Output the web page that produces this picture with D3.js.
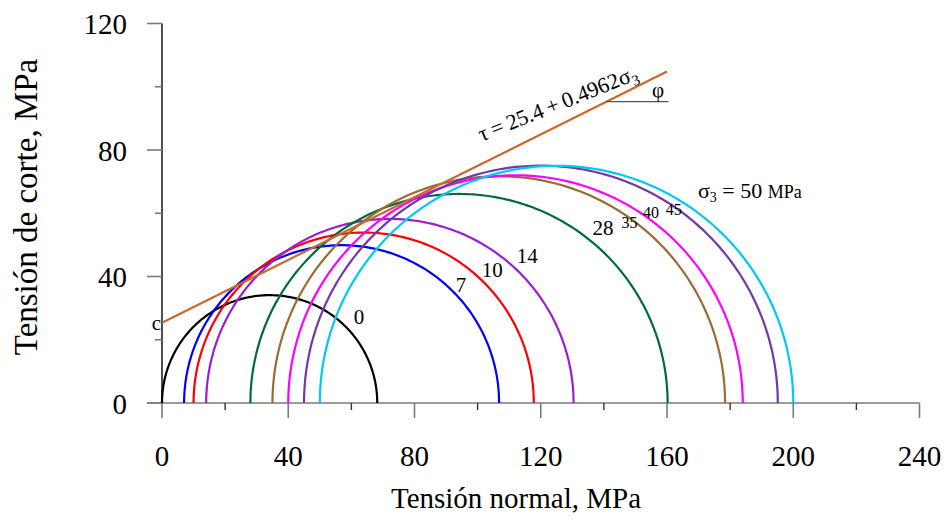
<!DOCTYPE html>
<html>
<head>
<meta charset="utf-8">
<script src="https://cdn.jsdelivr.net/npm/d3@7"></script>
<style>
  html, body { margin: 0; padding: 0; background: #fff; }
  svg { display: block; }
  text { font-family: "Liberation Serif", "Times New Roman", serif; fill: #000; }
</style>
</head>
<body>
<svg id="chart" width="947" height="520"></svg>
<script>
// Mohr circles: confining stress (sigma3) and failure stress (sigma1), MPa
const sigma3 = [0, 7, 10, 14, 28, 35, 40, 45, 50];
const sigma1 = [68.2, 106.8, 117.8, 130.4, 160.2, 178.4, 184, 195.1, 200];
const circleColors = ["#000000", "#0000ff", "#ff0000", "#9a1fd0", "#006b3c",
                      "#9c6a35", "#ff00ff", "#7337a8", "#00c8f8"];

// Failure envelope  tau = c + tan(phi) * sigma
const cohesion = 25.4;
const slope = 0.4962;
const envelopeEnd = 160;

// Axis ticks
const xTicks = [0, 40, 80, 120, 160, 200, 240];
const xMinor = [20, 60, 100, 140, 180, 220];
const yTicks = [0, 40, 80, 120];
const yMinor = [20, 60, 100];

// Circle labels (text, sigma, tau)
const labelText = ["0", "7", "10", "14", "28", "35", "40", "45"];
const labelSigma = [62.4, 94.7, 104.6, 115.7, 139.7, 148.1, 154.9, 162.1];
const labelTau = [25.0, 35.2, 39.8, 44.3, 53.1, 55.3, 58.5, 59.4];
const labelBig = [true, true, true, true, true, false, false, false];

const svg = d3.select("#chart");
const x = d3.scaleLinear().domain([0, 240]).range([162, 919.5]);
const y = d3.scaleLinear().domain([0, 120]).range([403, 23.5]);

const axisGray = "#7a7a7a";

// x axis
const gx = svg.append("g").attr("transform", `translate(0,${y(0)})`);
gx.append("line").attr("x1", 147).attr("x2", x(240)).attr("y1", 0).attr("y2", 0)
  .attr("stroke", axisGray).attr("stroke-width", 1.6);
gx.selectAll(".maj").data(xTicks).join("line")
  .attr("x1", d => x(d)).attr("x2", d => x(d)).attr("y1", 0).attr("y2", 15)
  .attr("stroke", axisGray).attr("stroke-width", 1.6);
gx.selectAll(".min").data(xMinor).join("line").attr("class", "min")
  .attr("x1", d => x(d)).attr("x2", d => x(d)).attr("y1", 0).attr("y2", 7)
  .attr("stroke", "#333").attr("stroke-width", 1.4);
gx.selectAll("text").data(xTicks).join("text")
  .attr("x", d => x(d)).attr("y", 63).attr("text-anchor", "middle")
  .attr("font-size", 29).text(d => d);

// y axis
const gy = svg.append("g");
gy.append("line").attr("x1", x(0)).attr("x2", x(0)).attr("y1", y(120)).attr("y2", y(0))
  .attr("stroke", "#222").attr("stroke-width", 1.6);
gy.selectAll(".maj").data(yTicks).join("line")
  .attr("x1", x(0) - 15).attr("x2", x(0)).attr("y1", d => y(d)).attr("y2", d => y(d))
  .attr("stroke", axisGray).attr("stroke-width", 1.6);
gy.selectAll(".min").data(yMinor).join("line").attr("class", "min")
  .attr("x1", x(0) - 7).attr("x2", x(0)).attr("y1", d => y(d)).attr("y2", d => y(d))
  .attr("stroke", axisGray).attr("stroke-width", 1.6);
gy.selectAll("text").data(yTicks).join("text")
  .attr("x", 127).attr("y", d => y(d) + 10.5).attr("text-anchor", "end")
  .attr("font-size", 29).text(d => d);

// axis titles
svg.append("text").attr("x", 516).attr("y", 508).attr("text-anchor", "middle")
  .attr("font-size", 29).text("Tensión normal, MPa");
svg.append("text").attr("transform", "translate(37,207) rotate(-90)")
  .attr("text-anchor", "middle").attr("font-size", 33).text("Tensión de corte, MPa");

// Mohr semicircles
const line = d3.line().x(d => x(d[0])).y(d => y(d[1]));
const angles = d3.range(0, 181, 1).map(a => a * Math.PI / 180);
sigma3.forEach((s3, i) => {
  const c = (s3 + sigma1[i]) / 2, r = (sigma1[i] - s3) / 2;
  const pts = angles.map(t => [c + r * Math.cos(t), r * Math.sin(t)]);
  svg.append("path").attr("d", line(pts)).attr("fill", "none")
    .attr("stroke", circleColors[i]).attr("stroke-width", 2.2);
});

// failure envelope
svg.append("path")
  .attr("d", line([[0, cohesion], [envelopeEnd, cohesion + slope * envelopeEnd]]))
  .attr("fill", "none").attr("stroke", "#c9692f").attr("stroke-width", 2.2);

// friction angle marker
const phiTau = 95.3;
svg.append("line")
  .attr("x1", x((phiTau - cohesion) / slope)).attr("x2", x(envelopeEnd + 0.5))
  .attr("y1", y(phiTau)).attr("y2", y(phiTau))
  .attr("stroke", "#555").attr("stroke-width", 1.4);
svg.append("text").attr("x", x(157.2)).attr("y", y(96.8)).attr("text-anchor", "middle")
  .attr("font-size", 21).text("φ");

// cohesion label
svg.append("text").attr("x", x(-1.8)).attr("y", y(23.1)).attr("text-anchor", "middle")
  .attr("font-size", 21).text("c");

// envelope equation
const eq = svg.append("text")
  .attr("transform", `translate(${x(101.3)},${y(82.6)}) rotate(-21.8)`)
  .attr("font-size", 22);
eq.append("tspan").text("τ\u2009=\u200925.4\u2009+\u20090.4962σ");
eq.append("tspan").attr("dy", 5).attr("font-size", 15).text("3");

// circle labels
svg.selectAll(".lab").data(labelText).join("text").attr("class", "lab")
  .attr("x", (d, i) => x(labelSigma[i])).attr("y", (d, i) => y(labelTau[i]))
  .attr("text-anchor", "middle")
  .attr("font-size", (d, i) => labelBig[i] ? 21 : 16).text(d => d);

// sigma3 = 50 MPa label
const s50 = svg.append("text").attr("x", x(169.8)).attr("y", y(64.8)).attr("font-size", 22);
s50.append("tspan").text("σ");
s50.append("tspan").attr("dy", 4).attr("font-size", 14).text("3");
s50.append("tspan").attr("dy", -4).text(" = 50 ");
s50.append("tspan").attr("font-size", 18).text("MPa");
</script>
</body>
</html>
